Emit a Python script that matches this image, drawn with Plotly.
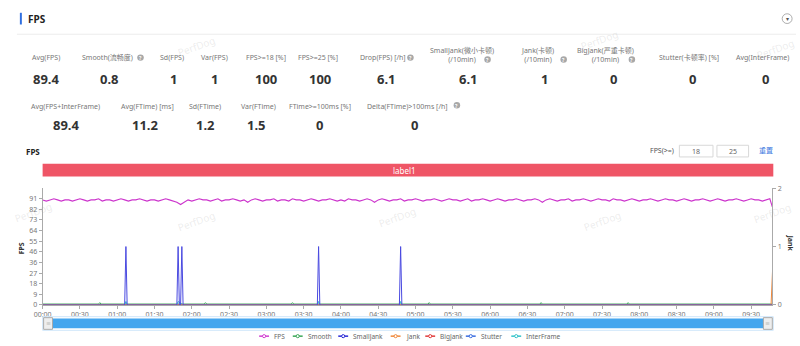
import plotly.graph_objects as go

W, H = 800, 346

# ---------------- data ----------------
x_tick_vals = [0, 30, 60, 90, 120, 150, 180, 210, 240, 270, 300, 330, 360, 390, 420, 450, 480, 510, 540, 570]
x_tick_text = ["00:00", "00:30", "01:00", "01:30", "02:00", "02:30", "03:00", "03:30", "04:00", "04:30",
               "05:00", "05:30", "06:00", "06:30", "07:00", "07:30", "08:00", "08:30", "09:00", "09:30"]
y_tick_vals = [0, 9.1, 18.2, 27.3, 36.4, 45.5, 54.6, 63.7, 72.8, 81.9, 91]
y_tick_text = ["0", "9", "18", "27", "36", "46", "55", "64", "73", "82", "91"]

fps_t = [i * 3 for i in range(196)] + [587]
fps_v = [
    90, 89, 90, 91, 90, 89, 90, 90, 89, 90, 91, 90, 89, 90, 90, 91, 89, 90, 90, 89,
    90, 91, 90, 89, 90, 90, 91, 90, 89, 90, 90, 89, 90, 91, 90, 89, 88, 86, 88, 90,
    89, 90, 91, 90, 90, 89, 90, 91, 89, 90, 90, 91, 90, 89, 90, 88, 90, 91, 90, 89,
    90, 90, 91, 89, 90, 90, 89, 91, 90, 90, 89, 90, 91, 90, 89, 90, 90, 91, 90, 89,
    90, 89, 91, 90, 90, 89, 90, 91, 90, 88, 90, 91, 90, 89, 90, 90, 91, 89, 90, 90,
    91, 90, 89, 90, 90, 91, 90, 89, 90, 91, 90, 90, 89, 90, 91, 89, 90, 90, 91, 90,
    89, 90, 91, 90, 89, 90, 90, 91, 90, 89, 90, 90, 91, 90, 88, 90, 91, 90, 89, 90,
    90, 91, 89, 90, 90, 91, 90, 89, 90, 91, 90, 90, 89, 91, 90, 90, 89, 90, 91, 90,
    89, 90, 90, 91, 90, 89, 90, 91, 90, 90, 89, 90, 91, 90, 89, 90, 90, 91, 90, 89,
    90, 91, 90, 89, 90, 90, 91, 90, 89, 90, 91, 90, 90, 89, 90, 91,
    84,
]

smooth_t = [0, 45, 46, 47, 130, 131, 132, 200, 201, 202, 310, 311, 312, 400, 401, 402, 470, 471, 472, 587]
smooth_v = [0.8, 0.8, 2, 0.8, 0.8, 2, 0.8, 0.8, 2, 0.8, 0.8, 2, 0.8, 0.8, 2, 0.8, 0.8, 2, 0.8, 0.8]

smalljank_t = [0, 66, 67, 68, 108, 109, 110, 111, 112, 113, 221, 222, 223, 287, 288, 289, 587]
smalljank_v = [0, 0, 1, 0, 0, 1, 0, 0, 1, 0, 0, 1, 0, 0, 1, 0, 0]

jank_t = [0, 586, 588]
jank_v = [0, 0, 1]

bigjank_t = [0, 587]
bigjank_v = [0, 0]

stutter_t = [0, 587]
stutter_v = [0, 0]

interframe_t = [0, 66, 67, 68, 108, 109, 113, 221, 222, 223, 287, 288, 289, 587]
interframe_v = [0, 0, 0.06, 0, 0, 0.06, 0, 0, 0.06, 0, 0, 0.06, 0, 0]

stats_row1 = [
    ("Avg(FPS)", "89.4"), ("Smooth(流畅度)", "0.8"), ("Sd(FPS)", "1"), ("Var(FPS)", "1"),
    ("FPS>=18 [%]", "100"), ("FPS>=25 [%]", "100"), ("Drop(FPS) [/h]", "6.1"),
    ("SmallJank(微小卡顿)<br>(/10min)", "6.1"), ("Jank(卡顿)<br>(/10min)", "1"),
    ("BigJank(严重卡顿)<br>(/10min)", "0"), ("Stutter(卡顿率) [%]", "0"), ("Avg(InterFrame)", "0"),
]
stats_row2 = [
    ("Avg(FPS+InterFrame)", "89.4"), ("Avg(FTime) [ms]", "11.2"), ("Sd(FTime)", "1.2"),
    ("Var(FTime)", "1.5"), ("FTime>=100ms [%]", "0"), ("Delta(FTime)>100ms [/h]", "0"),
]

legend_names = ["FPS", "Smooth", "SmallJank", "Jank", "BigJank", "Stutter", "InterFrame"]
legend_colors = ["#d23fd2", "#3aa757", "#2b2bd6", "#f0883a", "#e23b3b", "#3a6de0", "#33c3c9"]

# ---------------- layout helpers ----------------
def px(x):
    return x / W

def py(y):
    return 1 - y / H

PLOT_L, PLOT_R, PLOT_T, PLOT_B = 34, 772, 188, 308
FONT = "Noto Sans, Noto Sans CJK SC, sans-serif"

fig = go.Figure()

def line(t, v, color, axis="y", width=1.0, name=""):
    fig.add_trace(go.Scatter(x=t, y=v, mode="lines", yaxis=axis, name=name,
                             line=dict(color=color, width=width), showlegend=False,
                             hoverinfo="skip"))

line(smooth_t, smooth_v, legend_colors[1], "y", 1, "Smooth")
line(stutter_t, stutter_v, legend_colors[5], "y2", 1, "Stutter")
line(interframe_t, interframe_v, legend_colors[6], "y2", 1, "InterFrame")
line(bigjank_t, bigjank_v, legend_colors[4], "y2", 1, "BigJank")
line(jank_t, jank_v, legend_colors[3], "y2", 1, "Jank")
line(smalljank_t, smalljank_v, "#4a4ae0", "y2", 1, "SmallJank")
line(fps_t, fps_v, "#cc33cc", "y", 1.1, "FPS")

axis_font = dict(family=FONT, size=7, color="#777")
fig.update_layout(
    width=W, height=H, margin=dict(l=0, r=0, t=0, b=0),
    paper_bgcolor="white", plot_bgcolor="white",
    xaxis=dict(domain=[px(PLOT_L), px(PLOT_R)], range=[0, 587], tickvals=x_tick_vals,
               ticktext=x_tick_text, showgrid=False, zeroline=False, showline=True,
               linecolor="#aaa", linewidth=1, ticks="outside", ticklen=3, tickcolor="#aaa",
               tickfont=axis_font, anchor="y"),
    yaxis=dict(domain=[py(PLOT_B), py(PLOT_T)], range=[0, 100.1], tickvals=y_tick_vals,
               ticktext=y_tick_text, showgrid=False, zeroline=False, showline=True,
               linecolor="#aaa", linewidth=1, ticks="outside", ticklen=3, tickcolor="#aaa",
               tickfont=axis_font),
    yaxis2=dict(overlaying="y", side="right", range=[0, 2], tickvals=[0, 1, 2],
                showgrid=False, zeroline=False, showline=True, linecolor="#aaa", linewidth=1,
                ticks="outside", ticklen=3, tickcolor="#aaa", tickfont=axis_font, anchor="x"),
)

ann = []
shapes = []

def text(x, y, s, size=7, color="#666", bold=False, xanchor="center", angle=0, family=FONT):
    if bold:
        s = "<b>" + s + "</b>"
    ann.append(dict(x=px(x), y=py(y), xref="paper", yref="paper", text=s, showarrow=False,
                    xanchor=xanchor, yanchor="middle", textangle=angle,
                    font=dict(family=family, size=size, color=color)))

def rect(x0, y0, x1, y1, fill, line_color=None, lw=0):
    shapes.append(dict(type="rect", xref="paper", yref="paper", x0=px(x0), x1=px(x1),
                       y0=py(y1), y1=py(y0), fillcolor=fill,
                       line=dict(color=line_color or fill, width=lw)))

def circle(cx, cy, r, fill, line_color=None, lw=0):
    shapes.append(dict(type="circle", xref="paper", yref="paper", x0=px(cx - r), x1=px(cx + r),
                       y0=py(cy + r), y1=py(cy - r), fillcolor=fill,
                       line=dict(color=line_color or fill, width=lw)))

def info(cx, cy):
    circle(cx, cy, 3.3, "#a8a8a8")
    text(cx, cy + 0.3, "?", size=5, color="white", bold=True)

# header
rect(11, 8, 13, 20, "#2f6fe0")
text(17, 14, "FPS", size=10, color="#222", bold=True, xanchor="left")
shapes.append(dict(type="line", xref="paper", yref="paper", x0=px(8), x1=px(796),
                   y0=py(30), y1=py(30), line=dict(color="#ececec", width=1)))
circle(787, 14, 5, "white", "#999", 0.8)
text(787, 14, "▾", size=6, color="#555")

# stats row 1
row1_lx = [37, 100, 165, 208, 260, 313, 378, 458, 535, 603, 688, 762]
row1_vx = [38, 102, 166, 208, 260, 315, 382, 465, 542, 611, 691, 765]
for (lab, val), lx, vx in zip(stats_row1, row1_lx, row1_vx):
    ly = 51 if "<br>" in lab else 54
    text(lx, ly, lab, size=7, color="#777")
    text(vx, 76, val, size=13, color="#333", bold=True)
info(133, 54)
info(406, 54)
info(484, 56)
info(561, 56)
info(630, 56)

# stats row 2
row2_lx = [57, 140, 198, 252, 315, 403]
row2_vx = [58, 138, 199, 250, 314, 410]
for (lab, val), lx, vx in zip(stats_row2, row2_lx, row2_vx):
    text(lx, 104, lab, size=7, color="#777")
    text(vx, 123, val, size=13, color="#333", bold=True)
info(453, 103)

# chart header
text(15, 150, "FPS", size=8, color="#222", bold=True, xanchor="left")
text(660, 149, "FPS(>=)", size=7, color="#555")
rect(678, 144, 712, 156, "white", "#d8d8d8", 1)
rect(716, 144, 748, 156, "white", "#d8d8d8", 1)
text(695, 150, "18", size=7, color="#666")
text(732, 150, "25", size=7, color="#666")
text(766, 149, "重置", size=7, color="#3a78e0")

# label bar
rect(34, 163, 773, 176, "#ef5566")
text(400, 169.5, "label1", size=8, color="white")

# axis titles
text(13, 250, "<b>FPS</b>", size=7, color="#333", angle=-90)
text(790, 244, "<b>Jank</b>", size=7, color="#333", angle=90)

# slider
rect(34, 320, 773, 334, "white", "#cfe6fa", 1)
rect(37, 322, 770, 332, "#45a6ee")
rect(35, 321, 44, 333, "#eeeeee", "#aaaaaa", 1)
rect(763, 321, 772, 333, "#eeeeee", "#aaaaaa", 1)
text(39.5, 327, "≡", size=5, color="#888")
text(767.5, 327, "≡", size=5, color="#888")

# legend
legend_x = [253, 287, 333, 386, 421, 462, 508]
for name, color, lx in zip(legend_names, legend_colors, legend_x):
    shapes.append(dict(type="line", xref="paper", yref="paper", x0=px(lx), x1=px(lx + 10),
                       y0=py(340), y1=py(340), line=dict(color=color, width=1.5)))
    circle(lx + 5, 340, 1.6, "white", color, 1)
    text(lx + 13, 340, name, size=6.5, color="#666", xanchor="left")

# watermarks
for wx, wy in [(190, 42), (597, 36), (775, 45), (25, 213), (190, 222), (393, 218), (600, 222), (772, 214)]:
    text(wx, wy, "PerfDog", size=10, color="rgba(170,170,170,0.22)", angle=-20)

fig.update_layout(annotations=ann, shapes=shapes)
fig.write_html("out.html")
